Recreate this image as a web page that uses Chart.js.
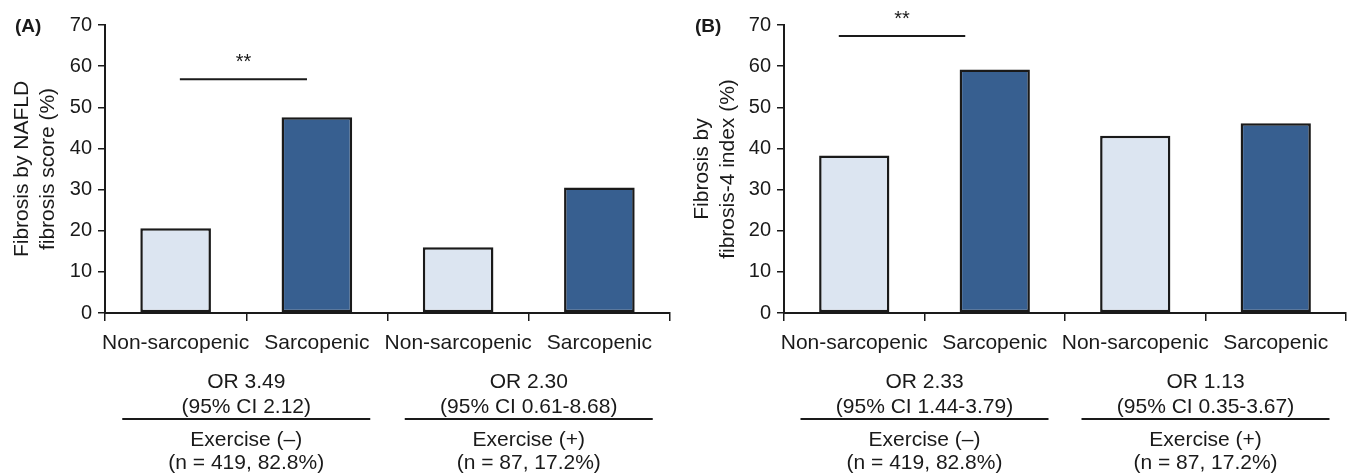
<!DOCTYPE html>
<html>
<head>
<meta charset="utf-8">
<script src="https://cdn.jsdelivr.net/npm/chart.js@4.4.1/dist/chart.umd.min.js"></script>
<style>
  body { margin: 0; background: #fff; }
  #wrap { position: relative; width: 1347px; height: 475px; }
  canvas { position: absolute; top: 0; }
</style>
</head>
<body>
<div id="wrap">
  <canvas id="chart-a" width="680" height="475" style="left:0"></canvas>
  <canvas id="chart-b" width="667" height="475" style="left:680px"></canvas>
</div>
<script>
// Data
const categories = ['Non-sarcopenic', 'Sarcopenic', 'Non-sarcopenic', 'Sarcopenic'];
const nfsValues = [20.6, 47.6, 16.0, 30.5];
const fib4Values = [38.3, 59.2, 43.1, 46.1];
const yTicks = [0, 10, 20, 30, 40, 50, 60, 70];

const nfsTitle = ['Fibrosis by NAFLD', 'fibrosis score (%)'];
const fib4Title = ['Fibrosis by', 'fibrosis-4 index (%)'];

const nfsOdds = [['OR 3.49', '(95% CI 2.12)'], ['OR 2.30', '(95% CI 0.61-8.68)']];
const fib4Odds = [['OR 2.33', '(95% CI 1.44-3.79)'], ['OR 1.13', '(95% CI 0.35-3.67)']];
const exerciseGroups = [['Exercise (\u2013)', '(n = 419, 82.8%)'], ['Exercise (+)', '(n = 87, 17.2%)']];

const nfsSignif = { label: '**', level: 56.8 };
const fib4Signif = { label: '**', level: 67.3 };

const lightFill = '#dce5f1';
const darkFill = '#375f90';
const ink = '#1a1a1a';
const fontFamily = '"Liberation Sans", Arial, Helvetica, sans-serif';

// Draws the panel letter, the significance bar and the group notes under the axis
const notesPlugin = {
  id: 'notes',
  afterDraw(chart, args, opts) {
    const { ctx, chartArea } = chart;
    const x = chart.scales.x;
    const y = chart.scales.y;
    const catW = x.getPixelForValue(1) - x.getPixelForValue(0);
    ctx.save();
    ctx.fillStyle = ink;
    ctx.strokeStyle = ink;

    // panel letter
    ctx.font = 'bold 19px ' + fontFamily;
    ctx.textAlign = 'left';
    ctx.textBaseline = 'middle';
    ctx.fillText(opts.letter, 15, 27);

    // significance bar
    const sy = y.getPixelForValue(opts.signif.level);
    const x1 = x.getPixelForValue(0) + opts.barSpan[0] * catW;
    const x2 = x.getPixelForValue(0) + opts.barSpan[1] * catW;
    ctx.lineWidth = 2;
    ctx.beginPath();
    ctx.moveTo(x1, sy);
    ctx.lineTo(x2, sy);
    ctx.stroke();
    ctx.font = '20px ' + fontFamily;
    ctx.textAlign = 'center';
    ctx.fillText(opts.signif.label, (x1 + x2) / 2, sy - 17);

    // group notes
    ctx.font = '21px ' + fontFamily;
    const base = chartArea.bottom;
    opts.odds.forEach((lines, g) => {
      const cx = (x.getPixelForValue(2 * g) + x.getPixelForValue(2 * g + 1)) / 2;
      ctx.fillText(lines[0], cx, base + 69);
      ctx.fillText(lines[1], cx, base + 94);
      ctx.lineWidth = 2;
      ctx.beginPath();
      ctx.moveTo(cx - 124, base + 106);
      ctx.lineTo(cx + 124, base + 106);
      ctx.stroke();
      ctx.fillText(opts.groups[g][0], cx, base + 127);
      ctx.fillText(opts.groups[g][1], cx, base + 150);
    });
    ctx.restore();
  }
};

function makeChart(id, values, title, notes, axisWidth, rightPad) {
  return new Chart(document.getElementById(id), {
    type: 'bar',
    data: {
      labels: categories,
      datasets: [{
        data: values,
        backgroundColor: [lightFill, darkFill, lightFill, darkFill],
        borderColor: ink,
        borderWidth: 2.5,
        borderSkipped: false,
        categoryPercentage: 1,
        barPercentage: 0.5
      }]
    },
    options: {
      responsive: false,
      animation: false,
      layout: { padding: { top: 25, right: rightPad, bottom: 0, left: 0 } },
      plugins: {
        legend: { display: false },
        tooltip: { enabled: false },
        notes: notes
      },
      scales: {
        x: {
          afterFit: (scale) => { scale.height = 162; },
          grid: { display: true, drawOnChartArea: false, tickLength: 8, color: ink, lineWidth: 1.5 },
          border: { display: true, color: ink, width: 2 },
          ticks: {
            autoSkip: false,
            maxRotation: 0,
            padding: 10,
            color: ink,
            font: { family: fontFamily, size: 21 }
          }
        },
        y: {
          min: yTicks[0],
          max: yTicks[yTicks.length - 1],
          afterFit: (scale) => { scale.width = axisWidth; },
          grid: { display: true, drawOnChartArea: false, tickLength: 7, color: ink, lineWidth: 1.5 },
          border: { display: true, color: ink, width: 2 },
          ticks: {
            stepSize: yTicks[1] - yTicks[0],
            padding: 6,
            color: ink,
            font: { family: fontFamily, size: 20 }
          },
          title: {
            display: true,
            text: title,
            color: ink,
            padding: { top: 10, bottom: 0 },
            font: { family: fontFamily, size: 21, lineHeight: 1.2 }
          }
        }
      }
    },
    plugins: [notesPlugin]
  });
}

makeChart('chart-a', nfsValues, nfsTitle, {
  letter: '(A)', signif: nfsSignif, barSpan: [0.03, 0.93], odds: nfsOdds, groups: exerciseGroups
}, 105, 10);

makeChart('chart-b', fib4Values, fib4Title, {
  letter: '(B)', signif: fib4Signif, barSpan: [-0.11, 0.79], odds: fib4Odds, groups: exerciseGroups
}, 104, 1);
</script>
</body>
</html>
